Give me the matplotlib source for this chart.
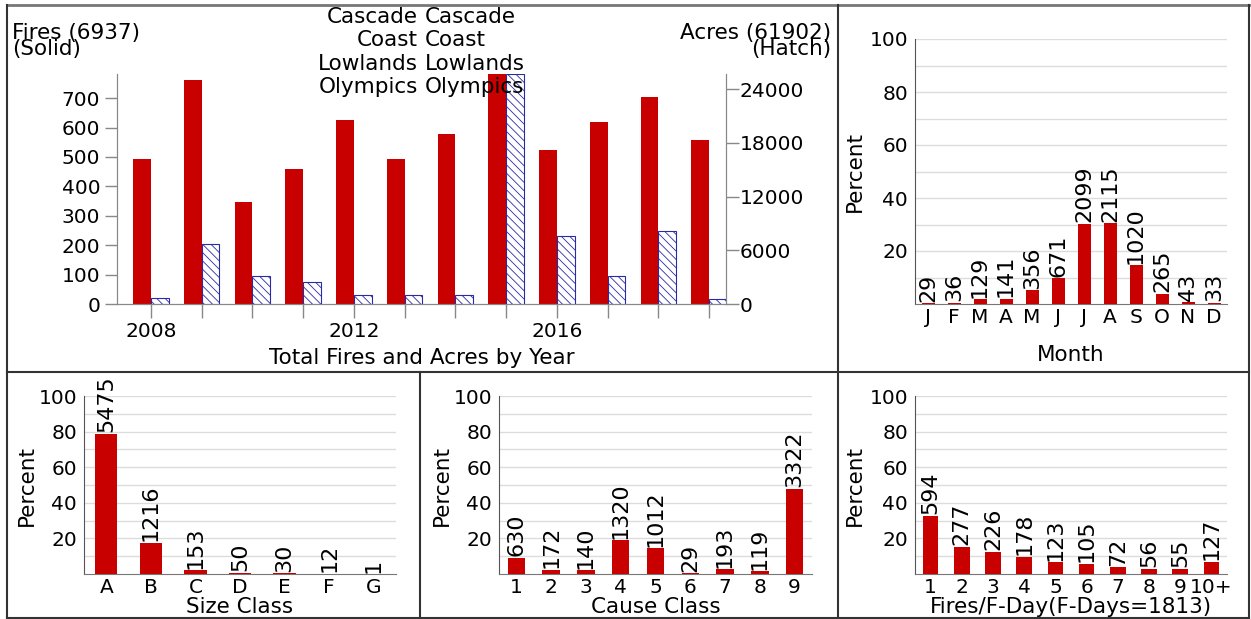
"""
Fire summary: fires and acres by year, plus percent breakdowns
by month, size class, cause class and fires per fire-day.
"""

import numpy as np
import matplotlib
matplotlib.use("Agg")
import matplotlib.pyplot as plt
from matplotlib.lines import Line2D

# Data
years = [2008, 2009, 2010, 2011, 2012, 2013, 2014, 2015, 2016, 2017, 2018, 2019]
fires_by_year = [492, 760, 348, 458, 625, 494, 577, 782, 522, 620, 703, 556]
acres_by_year = [640, 6700, 3100, 2500, 1050, 1050, 980, 25700, 7560, 3100, 8150, 600]
year_labels = {2008: "2008", 2012: "2012", 2016: "2016"}
regions = ["Cascade", "Coast", "Lowlands", "Olympics"]
total_fires = 6937
total_acres = 61902

months = ["J", "F", "M", "A", "M", "J", "J", "A", "S", "O", "N", "D"]
month_counts = [29, 36, 129, 141, 356, 671, 2099, 2115, 1020, 265, 43, 33]

size_classes = ["A", "B", "C", "D", "E", "F", "G"]
size_counts = [5475, 1216, 153, 50, 30, 12, 1]

cause_classes = ["1", "2", "3", "4", "5", "6", "7", "8", "9"]
cause_counts = [630, 172, 140, 1320, 1012, 29, 193, 119, 3322]

fday_classes = ["1", "2", "3", "4", "5", "6", "7", "8", "9", "10+"]
fday_counts = [594, 277, 226, 178, 123, 105, 72, 56, 55, 127]
total_fdays = 1813

RED = "#c80000"
BLUE = "#2a2aa8"
W, H = 1251, 619
TICK_FS = 14.5
LABEL_FS = 15.5
NOTE_FS = 16

plt.rcParams["font.family"] = ["DejaVu Sans"]
plt.rcParams["hatch.linewidth"] = 0.6
plt.rcParams["hatch.color"] = BLUE


def px_rect(x0, y0, x1, y1):
    """Pixel box (top-left origin) -> figure fraction rect."""
    return [x0 / W, 1 - y1 / H, (x1 - x0) / W, (y1 - y0) / H]


def pct_panel(fig, rect, cats, counts, total, xlabel, ypad, xpad):
    ax = fig.add_axes(rect)
    pct = np.array(counts) / total * 100
    x = np.arange(len(cats))
    ax.bar(x, pct, width=0.5, color=RED, zorder=3)
    for xi, p, c in zip(x, pct, counts):
        ax.annotate(str(c), (xi, p), xytext=(0, 1), textcoords="offset points",
                    rotation=90, ha="center", va="bottom", fontsize=NOTE_FS,
                    annotation_clip=False)
    ax.set_xlim(-0.5, len(cats) - 0.5)
    ax.set_ylim(0, 100)
    ax.set_yticks([20, 40, 60, 80, 100])
    ax.set_yticks(np.arange(10, 101, 10), minor=True)
    ax.grid(axis="y", which="both", color="#dcdcdc", lw=1, zorder=0)
    ax.set_xticks(x)
    ax.set_xticklabels(cats)
    ax.tick_params(axis="both", which="both", length=0, labelsize=TICK_FS)
    ax.tick_params(axis="y", pad=5)
    ax.tick_params(axis="x", pad=3)
    for s in ["top", "right"]:
        ax.spines[s].set_visible(False)
    ax.spines["left"].set_color("#555555")
    ax.spines["bottom"].set_color("#777777")
    ax.set_ylabel("Percent", fontsize=LABEL_FS, labelpad=ypad)
    ax.set_xlabel(xlabel, fontsize=LABEL_FS, labelpad=xpad)
    return ax


fig = plt.figure(figsize=(W / 100, H / 100), dpi=100)
fig.patch.set_facecolor("white")

# Fires and acres by year
ax = fig.add_axes(px_rect(117, 74, 726, 304))
yr = np.array(years)
bw = 0.35
ax.bar(yr - bw / 2, fires_by_year, width=bw, color=RED, zorder=2)
ax2 = ax.twinx()
ax2.bar(yr + bw / 2, acres_by_year, width=bw, facecolor="white",
        edgecolor=BLUE, hatch="\\\\\\\\", lw=0.8, zorder=2)
ax.set_xlim(2007.33, 2019.335)
ax.set_ylim(0, max(fires_by_year))
ax2.set_ylim(0, max(acres_by_year))
ax.set_yticks(np.arange(0, 701, 100))
ax2.set_yticks(np.arange(0, 24001, 6000))
ax.set_xticks(yr)
ax.set_xticklabels([year_labels.get(y, "") for y in years])
ax.tick_params(axis="x", length=10, width=1, color="#888888", labelsize=TICK_FS, pad=3)
ax.tick_params(axis="y", length=9, width=1, color="#888888", labelsize=TICK_FS, pad=3)
ax2.tick_params(axis="y", length=9, width=1, color="#888888", labelsize=TICK_FS, pad=1)
for a in (ax, ax2):
    a.spines["top"].set_visible(False)
    for s in ["left", "right", "bottom"]:
        a.spines[s].set_color("#888888")
ax.set_xlabel("Total Fires and Acres by Year", fontsize=LABEL_FS, labelpad=5)

fig.text(12 / W, 1 - 41 / H, f"Fires ({total_fires})\n(Solid)", fontsize=LABEL_FS,
         ha="left", va="center", linespacing=0.8)
fig.text(831 / W, 1 - 41 / H, f"Acres ({total_acres})\n(Hatch)", fontsize=LABEL_FS,
         ha="right", va="center", linespacing=0.8, multialignment="right")
for i, name in enumerate(regions):
    yy = 1 - (17 + 23.3 * i) / H
    fig.text(418 / W, yy, name, fontsize=LABEL_FS, ha="right", va="center")
    fig.text(425 / W, yy, name, fontsize=LABEL_FS, ha="left", va="center")

# Percent panels
pct_panel(fig, px_rect(915, 39, 1227, 304), months, month_counts, total_fires,
          "Month", 3, 13)
pct_panel(fig, px_rect(84, 396, 396, 574), size_classes, size_counts, total_fires,
          "Size Class", 1, 0)
pct_panel(fig, px_rect(499, 396, 812, 574), cause_classes, cause_counts, total_fires,
          "Cause Class", 1, 0)
pct_panel(fig, px_rect(915, 396, 1227, 574), fday_classes, fday_counts, total_fdays,
          f"Fires/F-Day(F-Days={total_fdays})", 3, 0)

# Panel frame lines
frame = [
    ((7, 1249), (5, 5), "#777777", 2.0),
    ((7, 7), (5, 618), "#333333", 1.5),
    ((1249, 1249), (5, 618), "#333333", 1.5),
    ((7, 1249), (618, 618), "#333333", 1.5),
    ((7, 1249), (372, 372), "#333333", 1.5),
    ((838, 838), (5, 618), "#333333", 1.5),
    ((420, 420), (372, 618), "#333333", 1.5),
]
for xs, ys, col, lw in frame:
    fig.add_artist(Line2D([x / W for x in xs], [1 - y / H for y in ys],
                          transform=fig.transFigure, color=col, lw=lw))

fig.savefig("out.png", dpi=100)
